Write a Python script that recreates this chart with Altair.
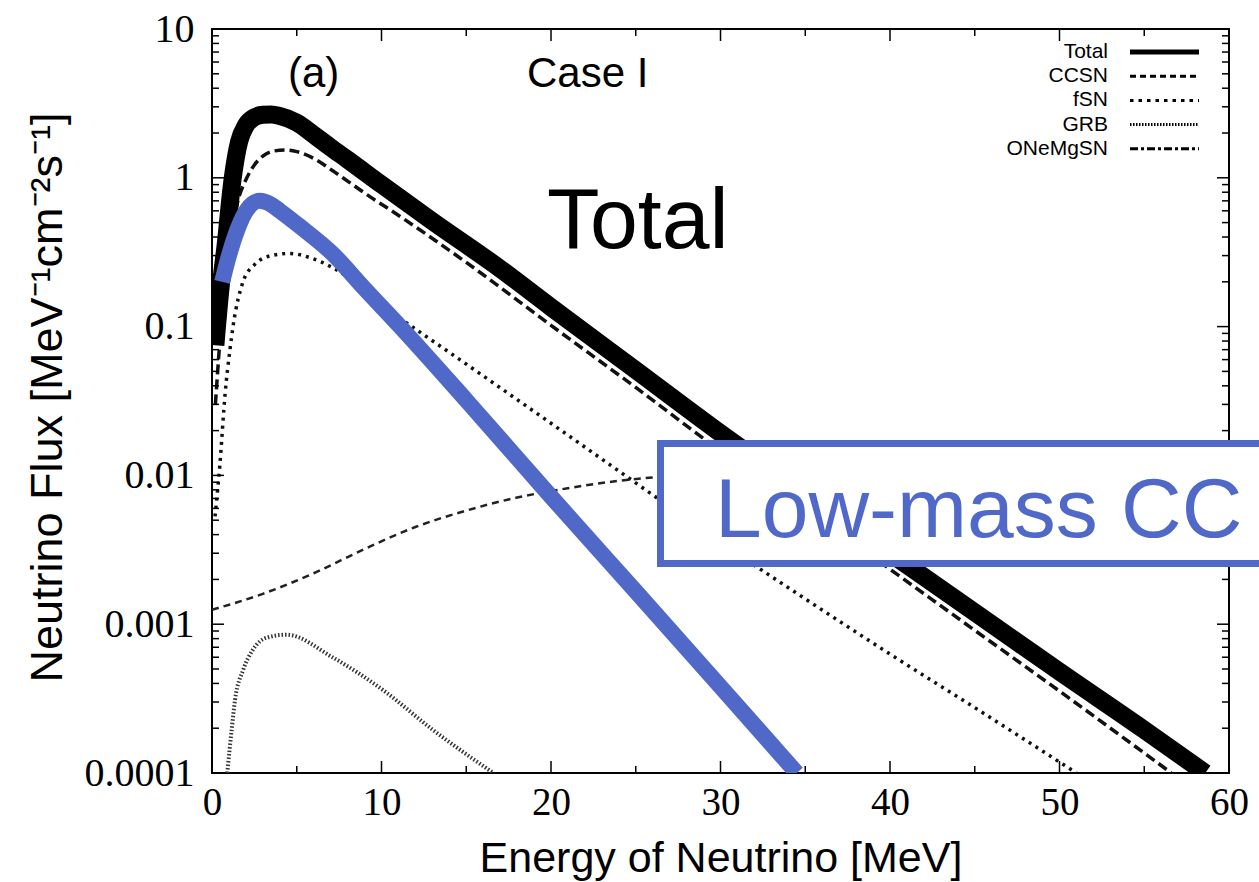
import altair as alt
import pandas as pd

# ---------------- data ----------------
total_E = [0.2, 0.5, 0.8, 1.2, 1.6, 2.0, 2.5, 3.0, 3.5, 4.0, 5.0, 6.0, 7.0, 8.0, 10.0, 13.0, 17.0, 20.0, 25.0, 30.0, 35.0, 40.0, 45.0, 50.0, 55.0, 58.6]
total_F = [0.075, 0.18, 0.35, 0.95, 1.75, 2.25, 2.55, 2.65, 2.66, 2.6, 2.35, 1.95, 1.6, 1.325, 0.9, 0.51, 0.245, 0.135, 0.051, 0.0192, 0.0076, 0.003, 0.0012, 0.00048, 0.000195, 0.0001]

ccsn_E = [0.2, 0.5, 1.0, 1.5, 2.0, 2.5, 3.0, 3.5, 4.3, 5.0, 6.0, 7.1, 8.0, 9.0, 11.1, 15.0, 20.0, 25.0, 29.6, 35.0, 40.0, 45.0, 50.0, 56.6]
ccsn_F = [0.03, 0.09, 0.33, 0.68, 0.97, 1.22, 1.4, 1.5, 1.54, 1.5, 1.35, 1.12, 0.95, 0.79, 0.55, 0.27, 0.102, 0.039, 0.0158, 0.006, 0.00234, 0.00091, 0.000355, 0.0001]

fsn_E = [0.18, 0.47, 0.77, 1.06, 1.24, 1.83, 2.5, 3.5, 4.6, 5.8, 7.1, 10.0, 15.0, 20.0, 25.0, 30.0, 35.0, 40.0, 45.0, 51.0]
fsn_F = [0.0053, 0.012, 0.035, 0.07, 0.1, 0.2, 0.26, 0.3, 0.31, 0.29, 0.25, 0.14, 0.056, 0.0224, 0.0089, 0.00355, 0.00148, 0.00063, 0.000275, 0.0001]

grb_E = [0.9, 1.17, 1.36, 1.83, 2.4, 3.2, 4.4, 7.1, 10.1, 13.0, 16.6]
grb_F = [0.0001, 0.0002, 0.00031, 0.00049, 0.00067, 0.00081, 0.00085, 0.0006, 0.00036, 0.000196, 0.0001]

onemg_E = [0.0, 3.0, 6.0, 9.0, 12.0, 15.0, 18.0, 21.0, 24.0, 27.0, 30.0, 35.0, 40.0, 50.0, 60.0]
onemg_F = [0.00125, 0.0016, 0.0022, 0.0032, 0.0045, 0.0058, 0.0071, 0.0082, 0.0092, 0.0099, 0.0104, 0.0105, 0.009, 0.006, 0.0035]

lowmass_E = [0.6, 1.0, 1.47, 2.06, 2.8, 3.5, 4.0, 5.2, 7.1, 9.0, 11.1, 15.0, 20.0, 25.0, 30.0, 34.5]
lowmass_F = [0.2, 0.3, 0.44, 0.61, 0.7, 0.66, 0.6, 0.47, 0.31, 0.18, 0.1, 0.032, 0.0072, 0.00166, 0.00038, 0.0001]

x_major = [0, 10, 20, 30, 40, 50, 60]
x_minor = [5, 15, 25, 35, 45, 55]
y_major = [0.0001, 0.001, 0.01, 0.1, 1, 10]
y_minor = [0.0002, 0.0003, 0.0004, 0.0005, 0.0006, 0.0007, 0.0008, 0.0009,
           0.002, 0.003, 0.004, 0.005, 0.006, 0.007, 0.008, 0.009,
           0.02, 0.03, 0.04, 0.05, 0.06, 0.07, 0.08, 0.09,
           0.2, 0.3, 0.4, 0.5, 0.6, 0.7, 0.8, 0.9,
           2, 3, 4, 5, 6, 7, 8, 9]

legend_labels = ["Total", "CCSN", "fSN", "GRB", "ONeMgSN"]
legend_dash = [[1, 0], [6, 4], [3.5, 5], [1.5, 1.5], [8, 3, 3, 3]]
legend_width = [5, 3, 3, 3, 3]

# ---------------- layout ----------------
W, H = 1017, 744
BLUE = "#5068C8"
SANS = "Liberation Sans"
SERIF = "Liberation Serif"

xs = alt.Scale(domain=[0, 60], nice=False, zero=False)
ys = alt.Scale(type="log", domain=[0.0001, 10], nice=False)

x_axis = alt.Axis(values=x_major, title="Energy of Neutrino [MeV]", domain=False, ticks=False, grid=False,
                  labelFont=SERIF, labelFontSize=39, labelColor="black", labelPadding=10,
                  labelOverlap=False, labelFlush=False,
                  titleFont=SANS, titleFontSize=43, titleFontWeight="normal", titleColor="black",
                  titleY=85, titleBaseline="middle")
y_axis = alt.Axis(values=y_major, labelExpr="'' + datum.value", title="Neutrino Flux [MeV⁻¹cm⁻²s⁻¹]",
                  domain=False, ticks=False, grid=False,
                  labelFont=SERIF, labelFontSize=40, labelColor="black", labelPadding=18,
                  labelOverlap=False, labelFlush=False,
                  titleFont=SANS, titleFontSize=45, titleFontWeight="normal", titleColor="black",
                  titleX=-165, titleY=H / 2 - 4, titleBaseline="middle", titleAngle=270)

XE = alt.X("E:Q", scale=xs, axis=x_axis)
YF = alt.Y("F:Q", scale=ys, axis=y_axis)


def curve(E, F, color, width, dash=None):
    props = dict(color=color, strokeWidth=width, interpolate="monotone", clip=True)
    if dash is not None:
        props["strokeDash"] = dash
    return alt.Chart(pd.DataFrame({"E": E, "F": F})).mark_line(**props).encode(x=XE, y=YF)


layers = [
    curve(onemg_E, onemg_F, "#222", 2.5, [7, 5]),
    curve(grb_E, grb_F, "#333", 4, [1.5, 2]),
    curve(fsn_E, fsn_F, "#111", 3.5, [3, 5]),
    curve(ccsn_E, ccsn_F, "#111", 3.5, [10, 5]),
    curve(total_E, total_F, "black", 18),
    curve(lowmass_E, lowmass_F, BLUE, 16),
]


# inward ticks on all four sides
def xticks(vals, length):
    b = alt.Chart(pd.DataFrame({"E": vals})).mark_rule(color="black", strokeWidth=1.5)
    return [b.encode(x=XE, y=alt.value(H), y2=alt.value(H - length)),
            b.encode(x=XE, y=alt.value(0), y2=alt.value(length))]


def yticks(vals, length):
    b = alt.Chart(pd.DataFrame({"F": vals})).mark_rule(color="black", strokeWidth=1.5)
    return [b.encode(y=YF, x=alt.value(0), x2=alt.value(length)),
            b.encode(y=YF, x=alt.value(W), x2=alt.value(W - length))]


layers += xticks(x_major, 12) + xticks(x_minor, 7) + yticks(y_major, 12) + yticks(y_minor, 7)

one = pd.DataFrame({"k": [0]})

# legend (top right, inside the frame)
for i, lab in enumerate(legend_labels):
    yy = 23 + i * 24.2
    layers.append(alt.Chart(one).mark_text(align="right", baseline="middle", font=SANS, fontSize=21, color="black")
                  .encode(x=alt.value(896), y=alt.value(yy), text=alt.value(lab)))
    layers.append(alt.Chart(one).mark_rule(color="black", strokeWidth=legend_width[i], strokeDash=legend_dash[i])
                  .encode(x=alt.value(918), x2=alt.value(987), y=alt.value(yy)))


def label(txt, x, y, size, color="black"):
    return alt.Chart(one).mark_text(align="left", baseline="alphabetic", font=SANS, fontSize=size, color=color).encode(
        x=alt.value(x), y=alt.value(y), text=alt.value(txt))


layers.append(label("(a)", 76, 58, 42))
layers.append(label("Case I", 315, 58, 42))
layers.append(label("Total", 335, 219, 86))
layers.append(alt.Chart(one).mark_rect(fill="white", stroke=BLUE, strokeWidth=7).encode(
    x=alt.value(448.5), x2=alt.value(1075), y=alt.value(414.5), y2=alt.value(534.5)))
layers.append(label("Low-mass CC", 503, 508, 84, BLUE))

chart = alt.layer(*layers).properties(
    width=W, height=H,
    padding={"left": 212, "top": 29, "right": 30, "bottom": 109},
    autosize=alt.AutoSizeParams(type="none"),
    background="white",
).configure_view(stroke="black", strokeWidth=2)

chart.save("out.html", embed_options={"renderer": "svg", "actions": False})
